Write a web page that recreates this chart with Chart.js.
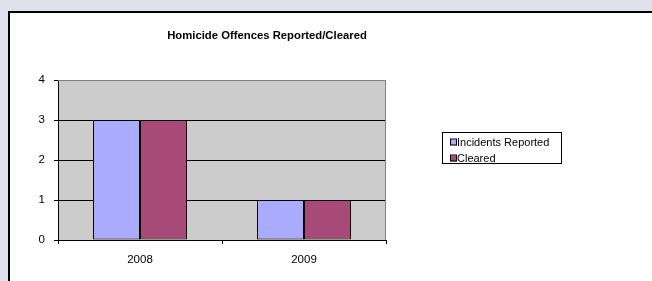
<!DOCTYPE html>
<html>
<head>
<meta charset="utf-8">
<style>
  html, body { margin: 0; padding: 0; }
  body { width: 652px; height: 281px; background: #e1e1ee; position: relative; overflow: hidden; }
  #frame { position: absolute; left: 8px; top: 11px; width: 700px; height: 320px; background: #fff; border: 2px solid #000; }
  #wrap { position: absolute; left: 0; top: 0; width: 652px; height: 281px; }
</style>
<script src="https://cdn.jsdelivr.net/npm/chart.js@4"></script>
</head>
<body>
<div id="frame"></div>
<div id="wrap"><canvas id="theChart" width="652" height="281"></canvas></div>
<script>
'use strict';

// chart data
let years = ['2008', '2009'];
let reported = [3, 1];
let cleared = [3, 1];
let yTicks = [0, 1, 2, 3, 4];

let chartTitle = 'Homicide Offences Reported/Cleared';
let fontName = '"Liberation Sans", Arial, sans-serif';

// grey plot area plus the title and the boxed legend
const excelLook = {
  id: 'excelLook',
  beforeDraw(chart) {
    let ctx = chart.ctx;
    let a = chart.chartArea;
    ctx.save();
    ctx.fillStyle = '#cccccc';
    ctx.fillRect(a.left, a.top, a.right - a.left, a.bottom - a.top);
    ctx.restore();
  },
  afterDraw(chart) {
    let ctx = chart.ctx;
    let a = chart.chartArea;
    ctx.save();
    // grey outline of plot area (top and right)
    ctx.strokeStyle = '#808080';
    ctx.lineWidth = 1;
    ctx.beginPath();
    ctx.moveTo(a.left, a.top + 0.5);
    ctx.lineTo(a.right - 0.5, a.top + 0.5);
    ctx.lineTo(a.right - 0.5, a.bottom);
    ctx.stroke();

    // title
    ctx.fillStyle = '#000';
    ctx.font = 'bold 11.3px ' + fontName;
    ctx.textAlign = 'center';
    ctx.textBaseline = 'middle';
    ctx.fillText(chartTitle, 267, 36);

    // legend box
    ctx.strokeStyle = '#000';
    ctx.strokeRect(442.5, 132.5, 119, 31);
    ctx.font = '11px ' + fontName;
    ctx.textAlign = 'left';
    let rows = [142.5, 158.5];
    chart.data.datasets.forEach(function (ds, i) {
      ctx.fillStyle = ds.backgroundColor;
      ctx.fillRect(451, rows[i] - 3, 6, 6);
      ctx.strokeStyle = '#000';
      ctx.strokeRect(450.5, rows[i] - 3.5, 6, 6);
      ctx.fillStyle = '#000';
      ctx.fillText(ds.label, 457, rows[i] + 0.5);
    });
    ctx.restore();
  }
};

const data = {
  labels: years,
  datasets: [{
    label: 'Incidents Reported',
    data: reported,
    backgroundColor: '#aaaaff',
    borderColor: '#000',
    borderWidth: 1,
    borderSkipped: false
  },
  {
    label: 'Cleared',
    data: cleared,
    backgroundColor: '#a84a78',
    borderColor: '#000',
    borderWidth: 1,
    borderSkipped: false
  }]
};

const config = {
  type: 'bar',
  data: data,
  plugins: [excelLook],
  options: {
    responsive: false,
    animation: false,
    events: [],
    layout: { padding: { left: 0, top: 80, right: 266, bottom: 0 } },
    categoryPercentage: 0.573,
    barPercentage: 1,
    plugins: {
      legend: { display: false },
      title: { display: false },
      tooltip: { enabled: false }
    },
    scales: {
      x: {
        afterFit: function (scale) { scale.height = 41; },
        grid: {
          offset: true,
          drawOnChartArea: false,
          drawTicks: true,
          tickLength: 4,
          tickColor: '#000'
        },
        border: { color: '#000', width: 1 },
        ticks: { color: '#000', padding: 9, font: { family: fontName, size: 11.5 } }
      },
      y: {
        min: 0,
        max: 4,
        afterFit: function (scale) { scale.width = 58; },
        afterBuildTicks: function (scale) {
          scale.ticks = yTicks.map(function (v) { return { value: v }; });
        },
        grid: {
          color: function (c) {
            if (c.tick.value === 0 || c.tick.value === 4) return 'rgba(0,0,0,0)';
            return '#000';
          },
          tickColor: '#000',
          tickLength: 4
        },
        border: { color: '#000', width: 1 },
        ticks: { color: '#000', padding: 9, font: { family: fontName, size: 11.5 } }
      }
    }
  }
};

let canvasChart = document.getElementById('theChart');
new Chart(canvasChart, config);
</script>
</body>
</html>
